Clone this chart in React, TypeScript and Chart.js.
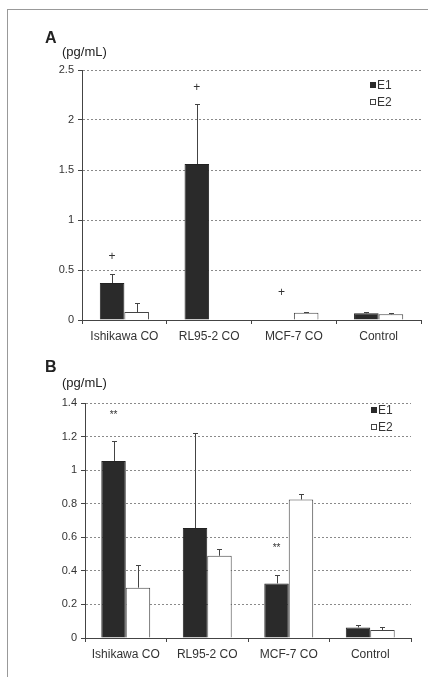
import React, { useEffect, useRef } from "react";
import { Chart, registerables } from "chart.js";

Chart.register(...registerables);

// ---------- data ----------
const categories = ["Ishikawa CO", "RL95-2 CO", "MCF-7 CO", "Control"];
const seriesLabels = ["E1", "E2"];

// Panel A (pg/mL)
const aE1 = [0.37, 1.56, 0, 0.067];
const aE1Err = [0.09, 0.6, 0, 0.012];
const aE2 = [0.08, 0, 0.072, 0.057];
const aE2Err = [0.09, 0, 0.008, 0.014];
const aMax = 2.5;
const aStep = 0.5;
const aMarkText = ["+", "+", "+"];
const aMarkCat = [0, 1, 2];
const aMarkY = [0.63, 2.32, 0.27];

// Panel B (pg/mL)
const bE1 = [1.055, 0.655, 0.325, 0.063];
const bE1Err = [0.12, 0.565, 0.05, 0.015];
const bE2 = [0.3, 0.49, 0.825, 0.048];
const bE2Err = [0.135, 0.04, 0.03, 0.015];
const bMax = 1.4;
const bStep = 0.2;
const bMarkText = ["**", "**"];
const bMarkCat = [0, 2];
const bMarkY = [1.33, 0.535];

// ---------- styling ----------
const FONT = "'Liberation Sans', Arial, Helvetica, sans-serif";
const DARK = "#2a2a2a";
const LINE = "#444";
const TEXT = "#333";

const errorBarPlugin = {
  id: "errorBars",
  afterDatasetsDraw(chart: any) {
    const ctx = chart.ctx;
    const ys = chart.scales.y;
    chart.data.datasets.forEach((ds: any, i: number) => {
      const meta = chart.getDatasetMeta(i);
      const errs: number[] = ds.errors || [];
      meta.data.forEach((el: any, j: number) => {
        const e = errs[j];
        if (!e) return;
        const v = ds.data[j];
        const x = Math.round(el.x) + 0.5;
        const y0 = ys.getPixelForValue(v);
        const y1 = Math.round(ys.getPixelForValue(v + e)) + 0.5;
        ctx.save();
        ctx.strokeStyle = LINE;
        ctx.lineWidth = 1;
        ctx.beginPath();
        ctx.moveTo(x, y0);
        ctx.lineTo(x, y1);
        ctx.moveTo(x - 2.5, y1);
        ctx.lineTo(x + 2.5, y1);
        ctx.stroke();
        ctx.restore();
      });
    });
  },
};

const marksPlugin = {
  id: "marks",
  afterDatasetsDraw(chart: any, _args: any, opts: any) {
    if (!opts || !opts.text) return;
    const ctx = chart.ctx;
    const ys = chart.scales.y;
    const meta = chart.getDatasetMeta(0);
    ctx.save();
    ctx.fillStyle = TEXT;
    ctx.textAlign = "center";
    ctx.textBaseline = "middle";
    opts.text.forEach((t: string, k: number) => {
      const el = meta.data[opts.cat[k]];
      const y = ys.getPixelForValue(opts.y[k]);
      ctx.font = (t === "+" ? "12px " : "10px ") + FONT;
      ctx.fillText(t, el.x, y);
    });
    ctx.restore();
  },
};

const legendPlugin = {
  id: "boxLegend",
  afterDraw(chart: any, _args: any, opts: any) {
    if (!opts) return;
    const ctx = chart.ctx;
    const area = chart.chartArea;
    ctx.save();
    ctx.font = "12px " + FONT;
    ctx.textBaseline = "middle";
    ctx.textAlign = "left";
    chart.data.datasets.forEach((ds: any, i: number) => {
      const x = area.right + opts.dx;
      const y = area.top + opts.dy + i * opts.gap;
      const s = 6;
      if (i === 0) {
        ctx.fillStyle = DARK;
        ctx.fillRect(x, Math.round(y - s / 2), s, s);
      } else {
        ctx.strokeStyle = LINE;
        ctx.lineWidth = 1;
        ctx.strokeRect(x + 0.5, Math.round(y - s / 2) + 0.5, s - 1, s - 1);
      }
      ctx.fillStyle = TEXT;
      ctx.fillText(ds.label, x + s + 1, y + 0.5);
    });
    ctx.restore();
  },
};

function makeConfig(p: any): any {
  return {
    type: "bar",
    data: {
      labels: categories,
      datasets: [
        {
          label: seriesLabels[0],
          data: p.e1,
          errors: p.e1Err,
          backgroundColor: DARK,
          borderColor: "#222",
          borderWidth: 1,
          categoryPercentage: p.catPct,
          barPercentage: 1,
        },
        {
          label: seriesLabels[1],
          data: p.e2,
          errors: p.e2Err,
          backgroundColor: "#ffffff",
          borderColor: LINE,
          borderWidth: 1,
          categoryPercentage: p.catPct,
          barPercentage: 1,
        },
      ],
    },
    options: {
      responsive: false,
      animation: false,
      devicePixelRatio: 1,
      layout: { padding: { top: p.padTop, right: p.padRight, left: 0, bottom: 0 } },
      plugins: {
        legend: { display: false },
        tooltip: { enabled: false },
        marks: { text: p.markText, cat: p.markCat, y: p.markY },
        boxLegend: { dx: p.legDx, dy: p.legDy, gap: p.legGap },
      },
      scales: {
        x: {
          afterFit: (s: any) => {
            s.height = p.xHeight;
          },
          grid: {
            drawOnChartArea: false,
            drawTicks: true,
            tickLength: 4,
            tickColor: LINE,
            tickBorderDash: [],
          },
          border: { display: true, color: LINE, width: 1 },
          ticks: {
            color: TEXT,
            font: { family: FONT, size: 12 },
            padding: 5,
            maxRotation: 0,
            autoSkip: false,
          },
        },
        y: {
          min: 0,
          max: p.max,
          afterFit: (s: any) => {
            s.width = p.yWidth;
          },
          grid: {
            color: "#8a8a8a",
            lineWidth: 1,
            drawTicks: true,
            tickLength: 4,
            tickColor: LINE,
            tickBorderDash: [],
          },
          border: { display: true, color: LINE, width: 1, dash: [2, 2] },
          ticks: {
            stepSize: p.step,
            color: TEXT,
            font: { family: FONT, size: 11 },
            padding: 4,
            callback: (v: any) => String(parseFloat(Number(v).toFixed(2))),
          },
        },
      },
    },
    plugins: [errorBarPlugin, marksPlugin, legendPlugin],
  };
}

function Panel(props: { cfg: any; top: number; height: number }) {
  const ref = useRef<HTMLCanvasElement>(null);
  useEffect(() => {
    if (!ref.current) return;
    const chart = new Chart(ref.current, makeConfig(props.cfg));
    return () => chart.destroy();
  }, []);
  return (
    <canvas
      ref={ref}
      width={428}
      height={props.height}
      style={{ position: "absolute", left: 0, top: props.top, width: 428, height: props.height }}
    />
  );
}

const labelStyle: any = { position: "absolute", fontFamily: FONT, color: "#222", whiteSpace: "nowrap", lineHeight: 1 };

export default function App() {
  const cfgA = {
    e1: aE1, e1Err: aE1Err, e2: aE2, e2Err: aE2Err,
    max: aMax, step: aStep,
    markText: aMarkText, markCat: aMarkCat, markY: aMarkY,
    catPct: 0.58, padTop: 70, padRight: 7, yWidth: 82, xHeight: 25,
    legDx: -51, legDy: 15, legGap: 17,
  };
  const cfgB = {
    e1: bE1, e1Err: bE1Err, e2: bE2, e2Err: bE2Err,
    max: bMax, step: bStep,
    markText: bMarkText, markCat: bMarkCat, markY: bMarkY,
    catPct: 0.6, padTop: 58, padRight: 17, yWidth: 85, xHeight: 39,
    legDx: -40, legDy: 7, legGap: 17,
  };
  return (
    <div style={{ position: "fixed", left: 0, top: 0, width: 428, height: 677, background: "#fff", overflow: "hidden" }}>
      <div style={{ position: "absolute", left: 7, top: 9, right: 0, bottom: 0, borderLeft: "1px solid #999", borderTop: "1px solid #999" }} />
      <Panel cfg={cfgA} top={0} height={345} />
      <Panel cfg={cfgB} top={345} height={332} />
      <div style={{ ...labelStyle, left: 45, top: 30, fontSize: 16, fontWeight: "bold" }}>A</div>
      <div style={{ ...labelStyle, left: 62, top: 45, fontSize: 13 }}>(pg/mL)</div>
      <div style={{ ...labelStyle, left: 45, top: 359, fontSize: 16, fontWeight: "bold" }}>B</div>
      <div style={{ ...labelStyle, left: 62, top: 376, fontSize: 13 }}>(pg/mL)</div>
    </div>
  );
}
